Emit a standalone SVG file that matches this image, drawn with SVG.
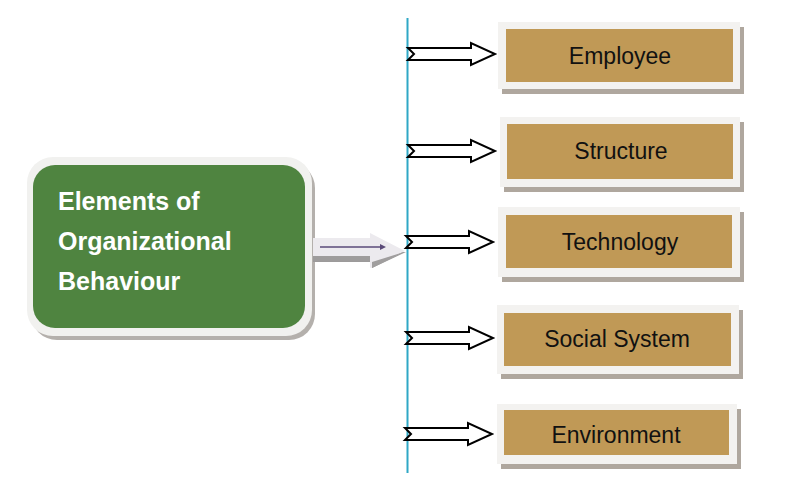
<svg xmlns="http://www.w3.org/2000/svg" width="793" height="495" viewBox="0 0 793 495">
  <defs>
    <style>
      .frame { fill: #F3F2F0; }
      .shadow { fill: #AFA79E; }
      .brown { fill: #C09956; }
      .lbl { font-family: "Liberation Sans", Arial, sans-serif; font-size: 23px; fill: #111; text-anchor: middle; }
      .title { font-family: "Liberation Sans", Arial, sans-serif; font-size: 25px; font-weight: bold; fill: #ffffff; }
      .blk { fill: #ffffff; stroke: #000; stroke-width: 2; stroke-linejoin: miter; }
    </style>
    <path id="blockArrow" class="blk" d="M0,-6 H63 V-11 L87,0 L63,11 V6 H0 L6,0 Z"/>
  </defs>
  <rect width="793" height="495" fill="#ffffff"/>

  <g id="main">
    <rect x="31" y="162" width="284" height="178" rx="26" fill="#B4B0AC"/>
    <rect x="27" y="157" width="285" height="179" rx="26" fill="#F1F1EF"/>
    <rect x="33" y="165" width="272" height="163" rx="22" fill="#4F8440"/>
    <text class="title" x="58" y="210">Elements of</text>
    <text class="title" x="58" y="250">Organizational</text>
    <text class="title" x="58" y="290">Behaviour</text>
  </g>

  <g id="connectors">
    <line x1="407.5" y1="18" x2="407.5" y2="473" stroke="#2FA8C6" stroke-width="2"/>
    <path d="M313,256 H370 V262 L400,252 L406,252 L372,268 L370,262 V262 H313 Z" fill="#9C9A9A"/>
    <path d="M313,238 H370 V233 L405,251 L370,268 V257 H313 Z" fill="#ECEAEE"/>
    <rect x="313" y="256" width="57" height="5" fill="#9E9C9C"/>
    <path d="M372,262 L404,252 L372,268 Z" fill="#A09E9E"/>
    <line x1="320" y1="247" x2="382" y2="247" stroke="#5A4A78" stroke-width="1.5"/>
    <path d="M380,244 L386,247 L380,250 Z" fill="#5A4A78"/>
    <use href="#blockArrow" x="408" y="54"/>
    <use href="#blockArrow" x="408" y="151"/>
    <use href="#blockArrow" x="406" y="242"/>
    <use href="#blockArrow" x="406" y="338"/>
    <use href="#blockArrow" x="405" y="434"/>
  </g>

  <g id="employee">
    <rect class="shadow" x="502" y="27" width="242" height="67"/>
    <rect class="frame" x="498" y="22" width="242" height="67"/>
    <rect class="brown" x="506" y="29" width="227" height="53"/>
    <text class="lbl" x="620" y="64">Employee</text>
  </g>

  <g id="structure">
    <rect class="shadow" x="504" y="122" width="240" height="70"/>
    <rect class="frame" x="500" y="117" width="240" height="70"/>
    <rect class="brown" x="507" y="124" width="226" height="55"/>
    <text class="lbl" x="621" y="159">Structure</text>
  </g>

  <g id="technology">
    <rect class="shadow" x="502" y="212" width="242" height="70"/>
    <rect class="frame" x="498" y="207" width="242" height="70"/>
    <rect class="brown" x="506" y="215" width="226" height="53"/>
    <text class="lbl" x="620" y="250">Technology</text>
  </g>

  <g id="social-system">
    <rect class="shadow" x="501" y="310" width="242" height="69"/>
    <rect class="frame" x="497" y="305" width="242" height="69"/>
    <rect class="brown" x="504" y="313" width="227" height="53"/>
    <text class="lbl" x="617" y="347">Social System</text>
  </g>

  <g id="environment">
    <rect class="shadow" x="501" y="409" width="240" height="60"/>
    <rect class="frame" x="497" y="404" width="240" height="60"/>
    <rect class="brown" x="504" y="410" width="225" height="45"/>
    <text class="lbl" x="616" y="443">Environment</text>
  </g>
</svg>
